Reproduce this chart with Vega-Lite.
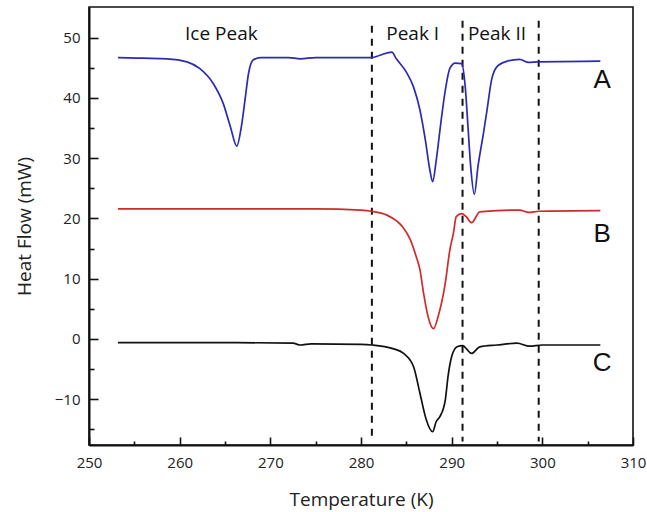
{
  "$schema": "https://vega.github.io/schema/vega-lite/v6.json",
  "width": 544,
  "height": 438,
  "autosize": "none",
  "padding": {"left": 89, "top": 7, "right": 14, "bottom": 67},
  "background": "white",
  "config": {
    "view": {"stroke": "#111", "strokeWidth": 1.6},
    "font": "Open Sans",
    "axis": {
      "grid": false,
      "domainColor": "#111",
      "domainWidth": 2,
      "tickColor": "#111",
      "tickWidth": 1.6,
      "labelOverlap": false,
      "labelFlush": false,
      "labelFont": "Open Sans",
      "labelFontSize": 15,
      "labelColor": "#222",
      "titleFont": "Open Sans",
      "titleFontSize": 19,
      "titleFontWeight": "normal",
      "titleColor": "#222"
    }
  },
  "datasets": {
    "curves": [
      {"s": "A", "t": 253.2, "h": 46.7}, {"s": "A", "t": 256.0, "h": 46.6}, {"s": "A", "t": 258.6, "h": 46.5},
      {"s": "A", "t": 260.8, "h": 46.0}, {"s": "A", "t": 262.2, "h": 44.9}, {"s": "A", "t": 263.7, "h": 42.4},
      {"s": "A", "t": 264.8, "h": 39.1}, {"s": "A", "t": 265.6, "h": 35.2}, {"s": "A", "t": 266.3, "h": 32.0},
      {"s": "A", "t": 266.8, "h": 35.2}, {"s": "A", "t": 267.2, "h": 39.6}, {"s": "A", "t": 267.6, "h": 44.1},
      {"s": "A", "t": 268.1, "h": 46.3}, {"s": "A", "t": 268.9, "h": 46.7}, {"s": "A", "t": 272.0, "h": 46.7},
      {"s": "A", "t": 273.3, "h": 46.5}, {"s": "A", "t": 275.0, "h": 46.7}, {"s": "A", "t": 281.2, "h": 46.7},
      {"s": "A", "t": 282.1, "h": 47.1}, {"s": "A", "t": 283.4, "h": 47.6}, {"s": "A", "t": 283.9, "h": 46.5},
      {"s": "A", "t": 285.0, "h": 44.3}, {"s": "A", "t": 285.8, "h": 41.8}, {"s": "A", "t": 286.5, "h": 38.0},
      {"s": "A", "t": 287.1, "h": 33.0}, {"s": "A", "t": 287.6, "h": 28.0}, {"s": "A", "t": 287.9, "h": 26.1},
      {"s": "A", "t": 288.3, "h": 29.7}, {"s": "A", "t": 288.8, "h": 35.8}, {"s": "A", "t": 289.3, "h": 41.3},
      {"s": "A", "t": 289.8, "h": 44.9}, {"s": "A", "t": 290.4, "h": 45.8}, {"s": "A", "t": 291.1, "h": 45.7},
      {"s": "A", "t": 291.5, "h": 41.8}, {"s": "A", "t": 291.8, "h": 35.2}, {"s": "A", "t": 292.1, "h": 28.6},
      {"s": "A", "t": 292.5, "h": 24.0}, {"s": "A", "t": 292.9, "h": 28.6}, {"s": "A", "t": 293.5, "h": 34.1},
      {"s": "A", "t": 293.9, "h": 38.0}, {"s": "A", "t": 294.4, "h": 43.0}, {"s": "A", "t": 295.0, "h": 45.2},
      {"s": "A", "t": 296.1, "h": 46.1}, {"s": "A", "t": 297.5, "h": 46.4}, {"s": "A", "t": 298.5, "h": 45.9},
      {"s": "A", "t": 299.4, "h": 46.0}, {"s": "A", "t": 306.4, "h": 46.1},

      {"s": "B", "t": 253.2, "h": 21.6}, {"s": "B", "t": 265.0, "h": 21.6}, {"s": "B", "t": 275.0, "h": 21.6},
      {"s": "B", "t": 280.0, "h": 21.4}, {"s": "B", "t": 281.2, "h": 21.2}, {"s": "B", "t": 282.8, "h": 20.6},
      {"s": "B", "t": 284.0, "h": 19.5}, {"s": "B", "t": 284.6, "h": 18.6}, {"s": "B", "t": 285.4, "h": 16.6},
      {"s": "B", "t": 286.1, "h": 13.6}, {"s": "B", "t": 286.5, "h": 11.5}, {"s": "B", "t": 286.9, "h": 7.6},
      {"s": "B", "t": 287.4, "h": 3.7}, {"s": "B", "t": 288.0, "h": 1.7}, {"s": "B", "t": 288.5, "h": 3.7},
      {"s": "B", "t": 289.3, "h": 9.3}, {"s": "B", "t": 289.8, "h": 14.8}, {"s": "B", "t": 290.2, "h": 17.6},
      {"s": "B", "t": 290.5, "h": 20.3}, {"s": "B", "t": 291.1, "h": 20.8}, {"s": "B", "t": 291.6, "h": 20.3},
      {"s": "B", "t": 292.2, "h": 19.3}, {"s": "B", "t": 293.1, "h": 21.1}, {"s": "B", "t": 295.0, "h": 21.3},
      {"s": "B", "t": 297.5, "h": 21.4}, {"s": "B", "t": 298.5, "h": 21.0}, {"s": "B", "t": 299.6, "h": 21.2},
      {"s": "B", "t": 306.4, "h": 21.3},

      {"s": "C", "t": 253.2, "h": -0.6}, {"s": "C", "t": 265.0, "h": -0.6}, {"s": "C", "t": 272.5, "h": -0.7},
      {"s": "C", "t": 273.3, "h": -1.0}, {"s": "C", "t": 274.5, "h": -0.8}, {"s": "C", "t": 280.0, "h": -0.9},
      {"s": "C", "t": 281.2, "h": -1.0}, {"s": "C", "t": 283.5, "h": -1.6}, {"s": "C", "t": 284.7, "h": -2.4},
      {"s": "C", "t": 285.8, "h": -4.6}, {"s": "C", "t": 286.5, "h": -9.0}, {"s": "C", "t": 287.2, "h": -13.4},
      {"s": "C", "t": 287.9, "h": -15.4}, {"s": "C", "t": 288.3, "h": -13.7}, {"s": "C", "t": 288.7, "h": -12.9},
      {"s": "C", "t": 289.3, "h": -10.1}, {"s": "C", "t": 289.6, "h": -6.2}, {"s": "C", "t": 290.0, "h": -2.9},
      {"s": "C", "t": 290.6, "h": -1.3}, {"s": "C", "t": 291.2, "h": -1.1}, {"s": "C", "t": 292.2, "h": -2.4},
      {"s": "C", "t": 293.1, "h": -1.3}, {"s": "C", "t": 295.0, "h": -1.0}, {"s": "C", "t": 297.2, "h": -0.7},
      {"s": "C", "t": 298.6, "h": -1.2}, {"s": "C", "t": 300.0, "h": -1.0}, {"s": "C", "t": 306.4, "h": -1.0}
    ],
    "markers": [
      {"t": 281.2, "h": 52.0, "bottom": -17.0},
      {"t": 291.2, "h": 52.8, "bottom": -17.0},
      {"t": 299.6, "h": 52.8, "bottom": -17.0}
    ],
    "regions": [
      {"t": 264.6, "h": 50.6, "label": "Ice Peak"},
      {"t": 285.7, "h": 50.6, "label": "Peak I"},
      {"t": 295.0, "h": 50.6, "label": "Peak II"}
    ],
    "samples": [
      {"t": 306.6, "h": 43.0, "label": "A"},
      {"t": 306.6, "h": 17.5, "label": "B"},
      {"t": 306.6, "h": -4.0, "label": "C"}
    ]
  },
  "encoding": {
    "x": {
      "field": "t", "type": "quantitative", "title": "Temperature (K)",
      "scale": {"domain": [250, 310], "nice": false, "zero": false},
      "axis": {
        "values": [250, 255, 260, 265, 270, 275, 280, 285, 290, 295, 300, 305, 310],
        "tickSize": {"condition": {"test": "datum.value % 10 === 0", "value": -8}, "value": -4},
        "labelExpr": "datum.value % 10 === 0 ? datum.label : ''",
        "labelPadding": 18,
        "titlePadding": 16
      }
    },
    "y": {
      "field": "h", "type": "quantitative", "title": "Heat Flow (mW)",
      "scale": {"domain": [-17.6, 55.1], "nice": false, "zero": false},
      "axis": {
        "values": [-15, -10, -5, 0, 5, 10, 15, 20, 25, 30, 35, 40, 45, 50],
        "tickSize": {"condition": {"test": "datum.value % 10 === 0", "value": -9}, "value": -5},
        "labelExpr": "datum.value % 10 === 0 ? datum.label : ''",
        "labelPadding": 18,
        "titlePadding": 20
      }
    }
  },
  "layer": [
    {
      "data": {"name": "markers"},
      "mark": {"type": "rule", "strokeDash": [7, 6], "strokeWidth": 2, "color": "#111"},
      "encoding": {
        "y2": {"field": "bottom"}
      }
    },
    {
      "data": {"name": "curves"},
      "mark": {"type": "line", "interpolate": "monotone", "strokeWidth": 1.7},
      "encoding": {
        "color": {
          "field": "s", "type": "nominal",
          "scale": {"domain": ["A", "B", "C"], "range": ["#2a2ab5", "#d02b2b", "#111111"]},
          "legend": null
        }
      }
    },
    {
      "data": {"name": "regions"},
      "mark": {"type": "text", "fontSize": 19, "font": "Open Sans", "color": "#111", "baseline": "middle"},
      "encoding": {
        "text": {"field": "label"}
      }
    },
    {
      "data": {"name": "samples"},
      "mark": {"type": "text", "fontSize": 26, "font": "Liberation Sans", "color": "#111", "baseline": "middle"},
      "encoding": {
        "text": {"field": "label"}
      }
    }
  ]
}
